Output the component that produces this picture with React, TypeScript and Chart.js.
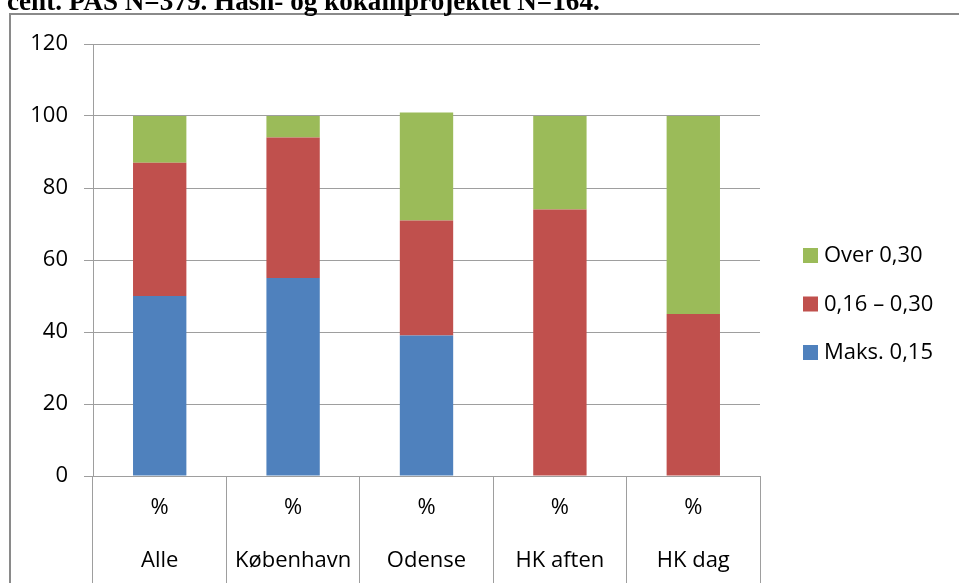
import React, { useEffect, useRef } from "react";
import { Chart, registerables } from "chart.js";

Chart.register(...registerables);

// ---- data ----
const categories = ["Alle", "København", "Odense", "HK aften", "HK dag"];
const subLabel = "%";
const maks015 = [50, 55, 39, 0, 0];
const mid016030 = [37, 39, 32, 74, 45];
const over030 = [13, 6, 30, 26, 55];
const seriesNames = ["Maks. 0,15", "0,16 – 0,30", "Over 0,30"];
const seriesColors = ["#4F81BD", "#C0504D", "#9BBB59"];
const yMin = 0;
const yMax = 120;
const yStep = 20;
const titleText = "cent. PAS N=379. Hash- og kokainprojektet N=164.";

const gridColor = "#9e9e9e";
const frameColor = "#8a8a8a";
const fontFamily = "'Open Sans', sans-serif";
const titleFamily = "'Liberation Serif', serif";

const decorPlugin = {
  id: "decor",
  afterDraw(chart: any) {
    const ctx = chart.ctx as CanvasRenderingContext2D;
    const W = chart.width;
    const H = chart.height;
    ctx.save();
    // outer frame (top + left)
    ctx.strokeStyle = frameColor;
    ctx.lineWidth = 2;
    ctx.beginPath();
    ctx.moveTo(10, H);
    ctx.lineTo(10, 14);
    ctx.lineTo(W, 14);
    ctx.stroke();

    // clipped title
    ctx.font = `bold 22px ${titleFamily}`;
    const w = ctx.measureText(titleText).width;
    const size = (22 * 593) / w;
    ctx.font = `bold ${size}px ${titleFamily}`;
    ctx.fillStyle = "#000";
    ctx.textBaseline = "alphabetic";
    ctx.textAlign = "left";
    ctx.fillText(titleText, 7, 10);

    // legend (reverse order)
    const area = chart.chartArea;
    const boxX = area.right + 43;
    const startY = 248;
    const gap = 48.5;
    ctx.font = `22px ${fontFamily}`;
    ctx.textBaseline = "middle";
    const ds = chart.data.datasets;
    for (let i = ds.length - 1, k = 0; i >= 0; i--, k++) {
      const y = startY + k * gap;
      ctx.fillStyle = ds[i].backgroundColor;
      ctx.fillRect(boxX, y, 15, 15);
      ctx.fillStyle = "#000";
      ctx.fillText(ds[i].label, boxX + 21, y + 8);
    }
    ctx.restore();
  },
};

export default function App() {
  const ref = useRef<HTMLCanvasElement>(null);

  useEffect(() => {
    if (!ref.current) return;
    const values = [maks015, mid016030, over030];
    const chart = new Chart(ref.current, {
      type: "bar",
      data: {
        labels: categories.map((c) => [subLabel, c]),
        datasets: values.map((v, i) => ({
          label: seriesNames[i],
          data: v,
          backgroundColor: seriesColors[i],
          borderWidth: 0,
          barPercentage: 0.4,
          categoryPercentage: 1,
        })),
      },
      options: {
        responsive: false,
        animation: false,
        devicePixelRatio: 1,
        layout: { padding: { top: 44, right: 199, left: 0, bottom: 0 } },
        plugins: {
          legend: { display: false },
          title: { display: false },
          tooltip: { enabled: false },
        },
        scales: {
          x: {
            stacked: true,
            grid: {
              offset: true,
              drawOnChartArea: false,
              tickLength: 107,
              color: gridColor,
              lineWidth: 1,
            },
            border: { color: gridColor },
            ticks: {
              padding: -101.5,
              color: "#000",
              maxRotation: 0,
              autoSkip: false,
              font: { family: fontFamily, size: 22, lineHeight: 53 / 22 },
            },
            afterFit: (s: any) => {
              s.height = 107;
            },
          },
          y: {
            stacked: true,
            min: yMin,
            max: yMax,
            ticks: {
              stepSize: yStep,
              padding: 16,
              color: "#000",
              font: { family: fontFamily, size: 22 },
            },
            grid: { color: gridColor, tickLength: 9, lineWidth: 1 },
            border: { color: gridColor },
            afterFit: (s: any) => {
              s.width = 93;
            },
          },
        },
      },
      plugins: [decorPlugin],
    });
    return () => chart.destroy();
  }, []);

  return (
    <canvas
      ref={ref}
      width={959}
      height={583}
      style={{ position: "absolute", left: 0, top: 0, width: 959, height: 583 }}
    />
  );
}
